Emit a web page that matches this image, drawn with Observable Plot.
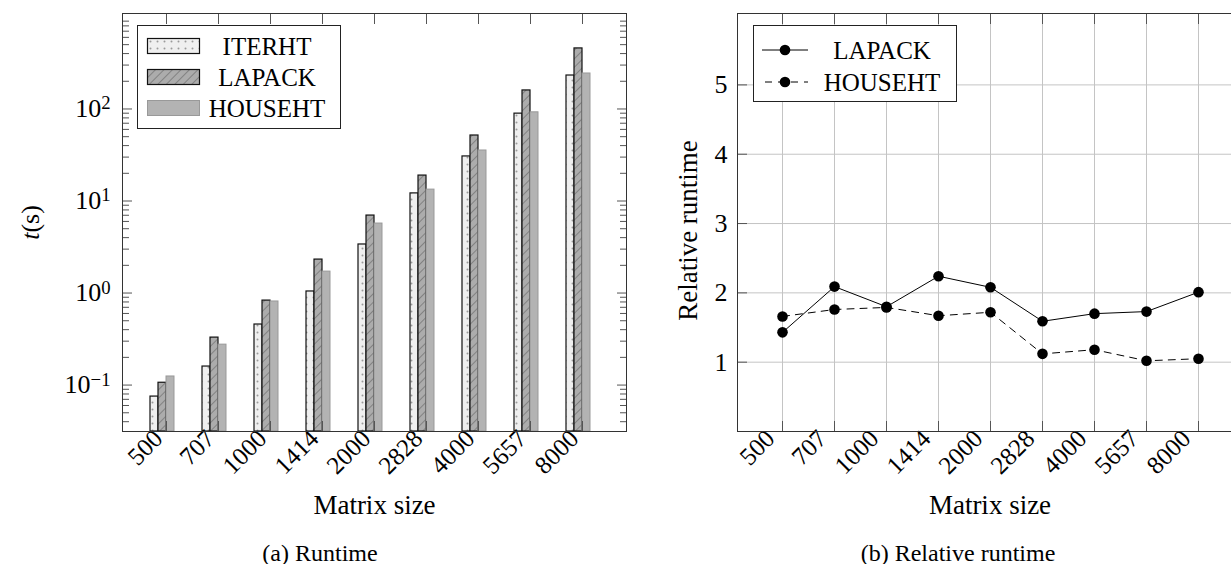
<!DOCTYPE html>
<html><head><meta charset="utf-8">
<script src="https://cdn.jsdelivr.net/npm/d3@7"></script>
<script src="https://cdn.jsdelivr.net/npm/@observablehq/plot@0.6"></script>
<style>
html,body{margin:0;padding:0;background:#fff;}
#wrap{position:relative;width:1231px;height:564px;overflow:hidden;font-family:"Liberation Serif",serif;color:#000;}
.pane{position:absolute;top:0;}
.cap{position:absolute;font-size:24px;transform:translate(-50%,-50%);white-space:nowrap;}
.legend{position:absolute;border:1px solid #222;background:#fff;box-sizing:border-box;}
.legend .lab{position:absolute;font-size:25px;transform:translate(-50%,-50%);white-space:nowrap;line-height:1;}
.legend svg{position:absolute;overflow:visible;}
</style></head>
<body>
<svg width="0" height="0" style="position:absolute">
<defs>
<pattern id="dots" width="7" height="7" patternUnits="userSpaceOnUse">
<rect width="7" height="7" fill="#efefef"/>
<circle cx="3.5" cy="3.5" r="1" fill="#9a9a9a"/>
</pattern>
<pattern id="hatch" width="6" height="6" patternUnits="userSpaceOnUse" patternTransform="rotate(45)">
<rect width="6" height="6" fill="#acacac"/>
<line x1="0" y1="0" x2="0" y2="6" stroke="#505050" stroke-width="0.9"/>
</pattern>
</defs>
</svg>
<div id="wrap">
<div class="pane" id="paneA" style="left:0;width:640px"></div>
<div class="pane" id="paneB" style="left:637px;width:615px"></div>
<div class="cap" style="left:320px;top:553px">(a) Runtime</div>
<div class="cap" style="left:958px;top:553px">(b) Relative runtime</div>
</div>
<script>
// ---- data ----
const sizes = ["500","707","1000","1414","2000","2828","4000","5657","8000"];
const iterht  = [0.075, 0.159, 0.455, 1.04, 3.37, 12.1, 30.5, 89, 231];
const lapack  = [0.106, 0.328, 0.828, 2.31, 6.95, 18.9, 51.5, 159, 455];
const househt = [0.124, 0.275, 0.81, 1.71, 5.69, 13.3, 35.4, 92, 243];
const lapackRel  = [1.43, 2.09, 1.80, 2.24, 2.08, 1.59, 1.70, 1.73, 2.01];
const househtRel = [1.66, 1.76, 1.79, 1.67, 1.72, 1.12, 1.18, 1.02, 1.05];
const yMajor = [0.1, 1, 10, 100];
const yMajorExp = ["−1", "0", "1", "2"];
const relTicks = [1, 2, 3, 4, 5];
const seriesA = ["ITERHT", "LAPACK", "HOUSEHT"];
const seriesB = ["LAPACK", "HOUSEHT"];

const FONT = '"Liberation Serif", serif';
const yMin = 0.0313, yMax = 1090;
const yMinor = [];
for (let d = -2; d <= 3; d++) for (let k = 2; k <= 9; k++) { const v = k * Math.pow(10, d); if (v > yMin && v < yMax) yMinor.push(v); }

const rowsA = sizes.map((s, i) => ({size: s, iterht: iterht[i], lapack: lapack[i], househt: househt[i]}));
const relL = sizes.map((s, i) => ({size: s, v: lapackRel[i]}));
const relH = sizes.map((s, i) => ({size: s, v: househtRel[i]}));

const tickCol = "#555";
const txt = {fontFamily: FONT, fill: "#000"};
const A = Plot.plot({
  width: 640, height: 530,
  marginLeft: 122, marginRight: 14, marginTop: 13, marginBottom: 99,
  style: {fontFamily: FONT, fontSize: "24px", background: "transparent", overflow: "visible", color: "#000"},
  x: {type: "band", domain: sizes, paddingInner: 0.8514, paddingOuter: 0.7257, label: null},
  y: {type: "log", domain: [yMin, yMax], label: null},
  marks: [
    Plot.barY(rowsA, {x: "size", y1: yMin, y2: "iterht", dx: -12, fill: "url(#dots)", stroke: "#111", strokeWidth: 1.2}),
    Plot.barY(rowsA, {x: "size", y1: yMin, y2: "lapack", dx: -4, fill: "url(#hatch)", stroke: "#111", strokeWidth: 1.2}),
    Plot.barY(rowsA, {x: "size", y1: yMin, y2: "househt", dx: 4, fill: "#b3b3b3", stroke: "#999", strokeWidth: 1}),
    Plot.axisX({anchor: "top", tickSize: -10, text: null, label: null, stroke: tickCol}),
    Plot.axisX({anchor: "bottom", tickSize: -10, text: null, label: null, stroke: tickCol}),
    Plot.axisX({anchor: "bottom", tickSize: 0, tickPadding: 3, dx: -8, tickRotate: -45, label: null, fontSize: 25, ...txt}),
    Plot.axisY({anchor: "left", ticks: yMajor, tickSize: -10, text: null, label: null, stroke: tickCol}),
    Plot.axisY({anchor: "left", ticks: yMinor, tickSize: -7, text: null, label: null, stroke: tickCol}),
    Plot.axisY({anchor: "right", ticks: yMajor, tickSize: -10, text: null, label: null, stroke: tickCol}),
    Plot.axisY({anchor: "right", ticks: yMinor, tickSize: -7, text: null, label: null, stroke: tickCol}),
    Plot.axisY({anchor: "left", ticks: yMajor, tickSize: 0, tickPadding: 12, label: null, fontSize: 26, ...txt,
      tickFormat: d => "10^" + yMajorExp[yMajor.indexOf(d)]}),
    Plot.frame({stroke: "#333", strokeWidth: 1}),
    Plot.text(["t(s)"], {frameAnchor: "left", dx: -92, rotate: -90, textAnchor: "middle", fontSize: 26, ...txt}),
    Plot.text(["Matrix size"], {frameAnchor: "bottom", dy: 82, textAnchor: "middle", fontSize: 27, ...txt})
  ]
});
document.getElementById("paneA").appendChild(A);

const B = Plot.plot({
  width: 615, height: 530,
  marginLeft: 100, marginRight: 10, marginTop: 13, marginBottom: 99,
  style: {fontFamily: FONT, fontSize: "24px", background: "transparent", overflow: "visible", color: "#000"},
  x: {type: "point", domain: sizes, padding: 0.8, label: null},
  y: {domain: [0, 6.03], label: null},
  marks: [
    Plot.gridX({stroke: "#c4c4c4", strokeOpacity: 1}),
    Plot.gridY(relTicks, {stroke: "#c4c4c4", strokeOpacity: 1}),
    Plot.axisX({anchor: "top", tickSize: -10, text: null, label: null, stroke: tickCol}),
    Plot.axisX({anchor: "bottom", tickSize: -10, text: null, label: null, stroke: tickCol}),
    Plot.axisX({anchor: "bottom", tickSize: 0, tickPadding: 3, dx: -12, tickRotate: -45, label: null, fontSize: 25, ...txt}),
    Plot.axisY({anchor: "left", ticks: relTicks, tickSize: -10, text: null, label: null, stroke: tickCol}),
    Plot.axisY({anchor: "right", ticks: relTicks, tickSize: -10, text: null, label: null, stroke: tickCol}),
    Plot.axisY({anchor: "left", ticks: relTicks, tickSize: 0, tickPadding: 10, label: null, fontSize: 26, tickFormat: d3.format("d"), ...txt}),
    Plot.line(relL, {x: "size", y: "v", stroke: "#000", strokeWidth: 1}),
    Plot.line(relH, {x: "size", y: "v", stroke: "#000", strokeWidth: 1, strokeDasharray: "7,6"}),
    Plot.dot(relL, {x: "size", y: "v", r: 5.3, fill: "#000"}),
    Plot.dot(relH, {x: "size", y: "v", r: 5.3, fill: "#000"}),
    Plot.frame({stroke: "#333", strokeWidth: 1}),
    Plot.text(["Relative runtime"], {frameAnchor: "left", dx: -49, dy: 8, rotate: -90, textAnchor: "middle", fontSize: 27, ...txt}),
    Plot.text(["Matrix size"], {frameAnchor: "bottom", dy: 82, textAnchor: "middle", fontSize: 27, ...txt})
  ]
});
document.getElementById("paneB").appendChild(B);

// superscript exponents on log tick labels, italic t in "t(s)"
const NS = "http://www.w3.org/2000/svg";
A.querySelectorAll("text").forEach(t => {
  const m = t.textContent.match(/^10\^(.+)$/);
  if (m) {
    t.textContent = "10";
    const ts = document.createElementNS(NS, "tspan");
    ts.setAttribute("dy", "-0.42em"); ts.setAttribute("font-size", "0.72em");
    ts.textContent = m[1];
    t.appendChild(ts);
  } else if (t.textContent === "t(s)") {
    t.textContent = "";
    const a = document.createElementNS(NS, "tspan"); a.setAttribute("font-style", "italic"); a.textContent = "t";
    const b = document.createElementNS(NS, "tspan"); b.textContent = "(s)";
    t.appendChild(a); t.appendChild(b);
  }
});

// legends
const wrap = document.getElementById("wrap");
function legendBox(x, y, w, h) {
  const d = document.createElement("div"); d.className = "legend";
  Object.assign(d.style, {left: x + "px", top: y + "px", width: w + "px", height: h + "px"});
  wrap.appendChild(d); return d;
}
const fillsA = {ITERHT: ["url(#dots)", "#111", 1.2], LAPACK: ["url(#hatch)", "#111", 1.2], HOUSEHT: ["#b3b3b3", "#999", 1]};
const LA = legendBox(137, 25, 204, 104);
seriesA.forEach((name, i) => {
  const cy = 20 + i * 31;
  const s = document.createElementNS(NS, "svg");
  s.setAttribute("width", 53); s.setAttribute("height", 16);
  Object.assign(s.style, {left: "9px", top: (cy - 8) + "px"});
  const r = document.createElementNS(NS, "rect");
  r.setAttribute("x", 0.5); r.setAttribute("y", 0.5); r.setAttribute("width", 52); r.setAttribute("height", 15);
  r.setAttribute("fill", fillsA[name][0]); r.setAttribute("stroke", fillsA[name][1]); r.setAttribute("stroke-width", fillsA[name][2]);
  s.appendChild(r); LA.appendChild(s);
  const l = document.createElement("div"); l.className = "lab"; l.textContent = name;
  Object.assign(l.style, {left: "129px", top: cy + "px"});
  LA.appendChild(l);
});
const LB = legendBox(753, 25, 204, 77);
seriesB.forEach((name, i) => {
  const cy = 24 + i * 32;
  const s = document.createElementNS(NS, "svg");
  s.setAttribute("width", 46); s.setAttribute("height", 14);
  Object.assign(s.style, {left: "8px", top: (cy - 7) + "px"});
  const ln = document.createElementNS(NS, "line");
  ln.setAttribute("x1", 0); ln.setAttribute("x2", 46); ln.setAttribute("y1", 7); ln.setAttribute("y2", 7);
  ln.setAttribute("stroke", "#000"); ln.setAttribute("stroke-width", 1);
  if (name === "HOUSEHT") { ln.setAttribute("stroke-dasharray", "7,6"); ln.setAttribute("stroke-dashoffset", "-3"); }
  const c = document.createElementNS(NS, "circle");
  c.setAttribute("cx", 23); c.setAttribute("cy", 7); c.setAttribute("r", 5.3); c.setAttribute("fill", "#000");
  s.appendChild(ln); s.appendChild(c); LB.appendChild(s);
  const l = document.createElement("div"); l.className = "lab"; l.textContent = name;
  Object.assign(l.style, {left: "128px", top: cy + "px"});
  LB.appendChild(l);
});
</script>
</body></html>
